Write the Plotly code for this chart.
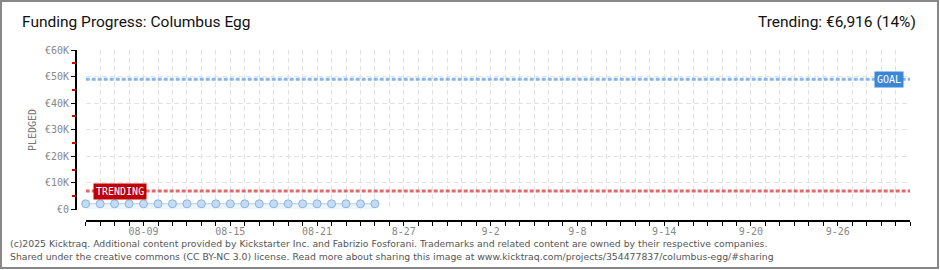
import plotly.graph_objects as go
from datetime import date, timedelta

# ---- data ----
pledged_dates = ["2025-08-05", "2025-08-06", "2025-08-07", "2025-08-08", "2025-08-09",
                 "2025-08-10", "2025-08-11", "2025-08-12", "2025-08-13", "2025-08-14",
                 "2025-08-15", "2025-08-16", "2025-08-17", "2025-08-18", "2025-08-19",
                 "2025-08-20", "2025-08-21", "2025-08-22", "2025-08-23", "2025-08-24",
                 "2025-08-25"]
pledged_values = [2150, 2150, 2150, 2150, 2150, 2150, 2150, 2150, 2150, 2150,
                  2150, 2150, 2150, 2150, 2150, 2150, 2150, 2150, 2150, 2150, 2150]
goal_value = 49000
trending_value = 6916
campaign_start = "2025-08-05"
campaign_end = "2025-10-01"

x_label_dates = ["2025-08-09", "2025-08-15", "2025-08-21", "2025-08-27", "2025-09-02",
                 "2025-09-08", "2025-09-14", "2025-09-20", "2025-09-26"]
x_label_texts = ["08-09", "08-15", "08-21", "8-27", "9-2", "9-8", "9-14", "9-20", "9-26"]
y_tick_values = [0, 10000, 20000, 30000, 40000, 50000, 60000]
y_tick_texts = ["€0", "€10K", "€20K", "€30K", "€40K", "€50K", "€60K"]
y_half_ticks = [5000, 15000, 25000, 35000, 45000, 55000]

title_text = "Funding Progress: Columbus Egg"
trending_text = "Trending: €6,916 (14%)"
footer_1 = ("(c)2025 Kicktraq. Additional content provided by Kickstarter Inc. and Fabrizio Fosforani. "
            "Trademarks and related content are owned by their respective companies.")
footer_2 = ("Shared under the creative commons (CC BY-NC 3.0) license. Read more about sharing this image at "
            "www.kicktraq.com/projects/354477837/columbus-egg/#sharing")

# daily ticks across the campaign
d0 = date.fromisoformat(campaign_start)
d1 = date.fromisoformat(campaign_end)
all_days = [(d0 + timedelta(days=i)).isoformat() for i in range((d1 - d0).days + 1)]
label_map = dict(zip(x_label_dates, x_label_texts))
x_tick_vals = all_days
x_tick_text = [label_map.get(d, "") for d in all_days]

# ---- layout geometry (pixels) ----
W, H = 940, 270
ML, MR, MT, MB = 76, 30, 50, 49
PW = W - ML - MR
PH = H - MT - MB


def px(xp):
    return (xp - ML) / PW


def py(yp):
    return (H - MB - yp) / PH


x_dom0 = px(85.7)
y_dom0 = py(209.5)

fig = go.Figure()

# goal line
fig.add_trace(go.Scatter(
    x=[campaign_start, campaign_end], y=[goal_value, goal_value], mode="lines",
    line=dict(color="#85b6e8", width=3, dash="4px,2px"), hoverinfo="skip", showlegend=False))
# trending line
fig.add_trace(go.Scatter(
    x=[campaign_start, campaign_end], y=[trending_value, trending_value], mode="lines",
    line=dict(color="#e06a6a", width=3, dash="4px,2px"), hoverinfo="skip", showlegend=False))
# pledged
fig.add_trace(go.Scatter(
    x=pledged_dates, y=pledged_values, mode="lines+markers",
    fill="tozeroy", fillcolor="rgba(214,232,250,0.45)",
    line=dict(color="#b3d0ef", width=1),
    marker=dict(size=8, color="#c4dbf4", line=dict(color="#8cb2e0", width=1)),
    cliponaxis=False, showlegend=False))
# invisible trace to anchor the overlay axis carrying red half-step ticks
fig.add_trace(go.Scatter(x=[campaign_start], y=[0], yaxis="y2", mode="markers",
                         marker=dict(opacity=0), hoverinfo="skip", showlegend=False))

mono = "DejaVu Sans Mono"
fig.update_layout(
    width=W, height=H, margin=dict(l=ML, r=MR, t=MT, b=MB),
    paper_bgcolor="white", plot_bgcolor="white",
    xaxis=dict(
        type="date", range=[campaign_start, campaign_end], domain=[x_dom0, 1],
        anchor="free", position=0,
        tickmode="array", tickvals=x_tick_vals, ticktext=x_tick_text,
        ticks="outside", ticklen=4, tickwidth=1, tickcolor="black",
        showline=True, linecolor="black", linewidth=2,
        showgrid=True, gridcolor="#e3e3e3", griddash="5px,3px", gridwidth=1,
        zeroline=False, ticklabelstandoff=-3,
        tickfont=dict(family=mono, size=10, color="#888888"),
    ),
    yaxis=dict(
        range=[0, 60000], domain=[y_dom0, 1], anchor="free", position=0,
        tickmode="array", tickvals=y_tick_values, ticktext=y_tick_texts,
        ticks="outside", ticklen=4, tickwidth=1, tickcolor="black",
        showline=True, linecolor="black", linewidth=2,
        showgrid=True, gridcolor="#e3e3e3", griddash="5px,3px", gridwidth=1,
        zeroline=False,
        tickfont=dict(family=mono, size=10, color="#888888"),
    ),
    yaxis2=dict(
        range=[0, 60000], domain=[y_dom0, 1], anchor="free", position=0,
        overlaying="y", side="left",
        tickmode="array", tickvals=y_half_ticks, ticktext=["" for _ in y_half_ticks],
        ticks="outside", ticklen=4, tickwidth=2, tickcolor="#e00000",
        showline=False, showgrid=False, zeroline=False, showticklabels=False,
    ),
    font=dict(family="Roboto, sans-serif"),
)

annotations = [
    dict(text=title_text, xref="paper", yref="paper", x=px(20), y=py(22),
         xanchor="left", yanchor="middle", showarrow=False,
         font=dict(family="Roboto, sans-serif", size=15.5, color="#111111")),
    dict(text=trending_text, xref="paper", yref="paper", x=px(918), y=py(22),
         xanchor="right", yanchor="middle", showarrow=False,
         font=dict(family="Roboto, sans-serif", size=15.5, color="#111111")),
    dict(text=footer_1, xref="paper", yref="paper", x=px(8), y=py(243.5),
         xanchor="left", yanchor="middle", showarrow=False,
         font=dict(family="DejaVu Sans", size=9.3, color="#555555")),
    dict(text=footer_2, xref="paper", yref="paper", x=px(8), y=py(256.5),
         xanchor="left", yanchor="middle", showarrow=False,
         font=dict(family="DejaVu Sans", size=9.3, color="#555555")),
    dict(text="PLEDGED", xref="paper", yref="paper",
         x=px(32), y=py(130),
         xanchor="center", yanchor="middle", textangle=-90, showarrow=False,
         font=dict(family=mono, size=10, color="#777777")),
    dict(text="TRENDING", xref="x", yref="y", x=campaign_start, y=trending_value,
         xanchor="left", yanchor="middle", xshift=7, showarrow=False,
         bgcolor="#c00000", borderpad=2,
         font=dict(family=mono, size=10, color="white")),
    dict(text="GOAL", xref="x", yref="y", x=campaign_end, y=goal_value,
         xanchor="right", yanchor="middle", xshift=-6, showarrow=False,
         bgcolor="#3a87d8", borderpad=2,
         font=dict(family=mono, size=10, color="white")),
]
fig.update_layout(annotations=annotations)

# outer border of the image
fig.add_shape(type="rect", xref="paper", yref="paper",
              x0=px(1), x1=px(938), y0=py(268), y1=py(1),
              line=dict(color="#888888", width=2), fillcolor="rgba(0,0,0,0)", layer="above")

fig.write_html("out.html")
